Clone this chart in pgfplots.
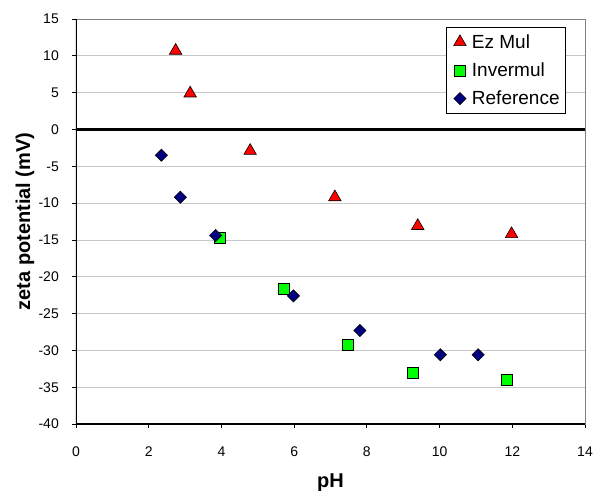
\documentclass[border=0pt]{standalone}
\usepackage{fontspec}
\setmainfont{Liberation Sans}
\usepackage{pgfplots}
\pgfplotsset{compat=1.18}
\definecolor{gridgray}{RGB}{200,200,200}
\definecolor{framegray}{RGB}{128,128,128}
\definecolor{navyblue}{RGB}{0,0,128}
\definecolor{limegreen}{RGB}{0,255,0}
\definecolor{pureRed}{RGB}{255,0,0}
\begin{document}
\begin{tikzpicture}
\path[use as bounding box] (-76bp,-67bp) rectangle (517bp,424bp);
\begin{axis}[
  scale only axis, width=509bp, height=405bp,
  xmin=0, xmax=14, ymin=-40, ymax=15,
  xtick={0,2,...,14}, ytick={-40,-35,...,15},
  tick align=outside, xtick pos=left, ytick pos=left,
  major tick length=4bp,
  tick style={black, line width=0.8bp},
  axis line style={framegray, line width=0.8bp},
  ymajorgrids, grid style={gridgray, line width=0.8bp},
  /pgf/number format/assume math mode=true,
  ticklabel style={font=\fontsize{14bp}{16bp}\selectfont},
  x tick label style={anchor=base, yshift=-28.3bp, inner sep=0pt},
  y tick label style={anchor=east, xshift=-13bp, inner sep=0pt},
  every axis y label/.style={at={(axis description cs:-0.1002,0.5)}, rotate=90, anchor=center,
    font=\fontsize{20bp}{24bp}\selectfont\bfseries},
  every axis x label/.style={at={(axis description cs:0.5,-0.1444)}, anchor=center,
    font=\fontsize{20bp}{24bp}\selectfont\bfseries},
  xlabel={pH}, ylabel={zeta potential (mV)},
  legend style={at={(axis description cs:0.9627,0.9802)}, anchor=north east,
    draw=black, line width=0.8bp, fill=white,
    font=\fontsize{19bp}{22bp}\selectfont,
    inner xsep=6bp, inner ysep=7bp, row sep=13bp,
    nodes={inner sep=0pt},
    cells={anchor=west}},
  legend image code/.code={\path[draw=none,fill=none] (0bp,-6bp) rectangle (20bp,6bp);\draw[#1] plot coordinates {(8bp,0bp)};},
]
\addplot[black, line width=3.5bp, forget plot] coordinates {(0,0) (14,0)};
\addplot[only marks, mark=triangle*, mark size=7.2bp, mark options={fill=pureRed, draw=black, line width=0.6bp}]
  coordinates {(2.74,10.7) (3.14,4.9) (4.79,-2.9) (7.12,-9.2) (9.40,-13.1) (11.98,-14.2)};
\addlegendentry{Ez Mul}
\addplot[only marks, mark=square*, mark size=5.5bp, mark options={fill=limegreen, draw=black, line width=0.6bp}]
  coordinates {(3.95,-14.7) (5.71,-21.7) (7.48,-29.2) (9.25,-33.1) (11.84,-34.0)};
\addlegendentry{Invermul}
\addplot[only marks, mark=square*, mark size=4.3bp, mark options={rotate=45, fill=navyblue, draw=black, line width=0.6bp}]
  coordinates {(2.35,-3.5) (2.87,-9.2) (3.84,-14.4) (5.98,-22.6) (7.81,-27.3) (10.02,-30.6) (11.06,-30.6)};
\addlegendentry{Reference}
\draw[black, line width=1.2bp] (rel axis cs:0,1) -- (rel axis cs:0,0) -- (rel axis cs:1,0);
\end{axis}
\end{tikzpicture}
\end{document}
